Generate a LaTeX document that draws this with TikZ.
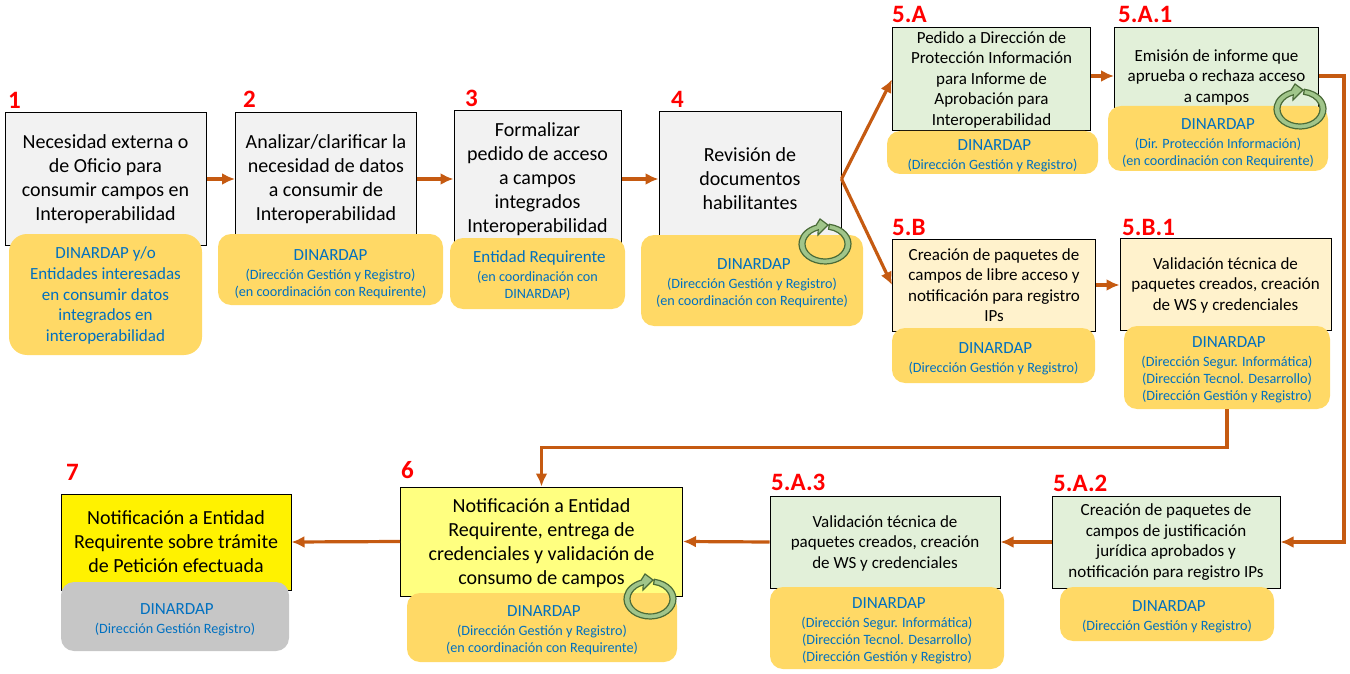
\documentclass[tikz,border=0pt]{standalone}
\usepackage{fontspec}
\setmainfont{Carlito}
\usetikzlibrary{arrows.meta}

\definecolor{flowcol}{HTML}{C55A11}
\definecolor{whocol}{HTML}{FFD966}
\definecolor{whotext}{HTML}{0070C0}
\definecolor{greybox}{HTML}{F2F2F2}
\definecolor{greenbox}{HTML}{E2F0D9}
\definecolor{creambox}{HTML}{FFF2CC}
\definecolor{paleyellow}{HTML}{FFFF80}
\definecolor{greywho}{HTML}{C6C6C6}
\definecolor{cyclefill}{HTML}{A0C58A}
\definecolor{cycledraw}{HTML}{4A6B38}

\newcommand*{\bigtext}{\fontsize{20}{24}\selectfont}
\newcommand*{\midtext}{\fontsize{17}{20.5}\selectfont}
\newcommand*{\whohead}[1][20pt]{\fontsize{17}{20}\selectfont\rule{0pt}{#1}}
\newcommand*{\whosub}{\fontsize{14.2}{17}\selectfont}

\begin{document}
\begin{tikzpicture}
[
	x=1pt,
	y=-1pt,
	stepnum/.style={anchor=west,inner sep=0pt,text=red,font=\fontsize{25}{25}\selectfont\bfseries},
	stepbox/.style={draw=black,line width=1pt,inner sep=1pt,align=center,text=black},
	whobox/.style={fill=whocol,rounded corners=13pt,inner sep=1pt,align=center,text=whotext,font=\whosub},
	flow/.style={-{Latex[length=13pt,width=12pt]},line width=3.2pt,draw=flowcol},
	cycle/.pic={
		\draw[yscale=-1,fill=cyclefill,draw=cycledraw,line width=1.2pt]
		  (80:26 and 20) arc[start angle=80,end angle=-250,x radius=26,y radius=20]
		  -- (-5,25) -- (3,19) -- (-7,9) -- (110:20 and 15)
		  arc[start angle=-250,end angle=80,x radius=20,y radius=15]
		  -- cycle;
	}
]

	\useasboundingbox (0,-1) rectangle (1350,673);

	% boxes of the upper row
	\node[stepbox,fill=greybox,minimum width=201pt,minimum height=132pt,font=\bigtext] (need) at (105.5,178) {Necesidad externa o\\de Oficio para\\consumir campos en\\Interoperabilidad};
	\node[stepbox,fill=greybox,minimum width=181pt,minimum height=132pt,font=\bigtext] (analyse) at (326,178) {Analizar/clarificar la\\necesidad de datos\\a consumir de\\Interoperabilidad};
	\node[stepbox,fill=greybox,minimum width=167pt,minimum height=136pt,font=\bigtext] (formal) at (537.5,178) {Formalizar\\pedido de acceso\\a campos\\integrados\\Interoperabilidad};
	\node[stepbox,fill=greybox,minimum width=182pt,minimum height=134pt,font=\bigtext] (review) at (750,178) {Revisión de\\documentos\\habilitantes};
	\node[stepbox,fill=greenbox,minimum width=198pt,minimum height=103pt,font=\midtext] (askA) at (991.5,78.5) {Pedido a Dirección de\\Protección Información\\para Informe de\\Aprobación para\\Interoperabilidad};
	\node[stepbox,fill=greenbox,minimum width=204pt,minimum height=96pt,font=\midtext] (reportA) at (1216.5,75) {\rule{0pt}{14pt}Emisión de informe que\\aprueba o rechaza acceso\\a campos};
	\node[stepbox,fill=creambox,minimum width=203pt,minimum height=92pt,font=\midtext] (packB) at (994,284) {Creación de paquetes de\\campos de libre acceso y\\notificación para registro\\IPs};
	\node[stepbox,fill=creambox,minimum width=211pt,minimum height=92pt,font=\midtext] (checkB) at (1225.5,283) {\rule{0pt}{14pt}Validación técnica de\\paquetes creados, creación\\de WS y credenciales};

	% boxes of the lower row
	\node[stepbox,fill=yellow,minimum width=230pt,minimum height=96pt,font=\bigtext] (notice) at (176,541) {Notificación a Entidad\\Requirente sobre trámite\\de Petición efectuada};
	\node[stepbox,fill=paleyellow,minimum width=282pt,minimum height=109pt,font=\bigtext] (deliver) at (541.5,540.5) {\rule{0pt}{18pt}Notificación a Entidad\\Requirente, entrega de\\credenciales y validación de\\consumo de campos};
	\node[stepbox,fill=greenbox,minimum width=230pt,minimum height=92pt,font=\midtext] (checkA) at (885,541) {\rule{0pt}{14pt}Validación técnica de\\paquetes creados, creación\\de WS y credenciales};
	\node[stepbox,fill=greenbox,minimum width=228pt,minimum height=92pt,font=\midtext] (packA) at (1166,541) {Creación de paquetes de\\campos de justificación\\jurídica aprobados y\\notificación para registro IPs};

	% who is in charge
	\node[whobox,rounded corners=18pt,minimum width=193pt,minimum height=121pt,font=\fontsize{17}{20.7}\selectfont] (whoNeed) at (105.5,293.5) {\rule{0pt}{14pt}DINARDAP y/o\\Entidades interesadas\\en consumir datos\\integrados en\\interoperabilidad};
	\node[whobox,minimum width=225pt,minimum height=71pt] (whoAnalyse) at (330.5,268.5) {\whohead DINARDAP\\[2pt]\whosub (Dirección Gestión y Registro)\\(en coordinación con Requirente)};
	\node[whobox,minimum width=175pt,minimum height=71pt] (whoFormal) at (537.5,272.5) {\whohead[16pt] Entidad Requirente\\[2pt]\whosub (en coordinación con\\DINARDAP)};
	\node[whobox,minimum width=222pt,minimum height=91pt] (whoReview) at (752,279.5) {\whohead[17pt] DINARDAP\\[2pt]\whosub (Dirección Gestión y Registro)\\(en coordinación con Requirente)};
	\node[whobox,minimum width=211pt,minimum height=43pt] (whoAskA) at (992.5,151.5) {\whohead[18pt] DINARDAP\\[2pt]\whosub (Dirección Gestión y Registro)};
	\node[whobox,minimum width=220pt,minimum height=65pt] (whoReportA) at (1218,137.5) {\whohead DINARDAP\\[2pt]\whosub (Dir. Protección Información)\\(en coordinación con Requirente)};
	\node[whobox,minimum width=203pt,minimum height=55pt] (whoPackB) at (993.5,354.5) {\whohead[18pt] DINARDAP\\[2pt]\whosub (Dirección Gestión y Registro)};
	\node[whobox,minimum width=206pt,minimum height=83pt] (whoCheckB) at (1227,366.5) {\whohead[16pt] DINARDAP\\[2pt]\whosub (Dirección Segur. Informática)\\(Dirección Tecnol. Desarrollo)\\(Dirección Gestión y Registro)};
	\node[whobox,fill=greywho,minimum width=228pt,minimum height=69pt] (whoNotice) at (175,615.5) {\whohead[18pt] DINARDAP\\[2pt]\whosub (Dirección Gestión Registro)};
	\node[whobox,minimum width=270pt,minimum height=69pt] (whoDeliver) at (542,626.5) {\whohead[16pt] DINARDAP\\[2pt]\whosub (Dirección Gestión y Registro)\\(en coordinación con Requirente)};
	\node[whobox,minimum width=234pt,minimum height=82pt] (whoCheckA) at (887,627) {\whohead[17pt] DINARDAP\\[2pt]\whosub (Dirección Segur. Informática)\\(Dirección Tecnol. Desarrollo)\\(Dirección Gestión y Registro)};
	\node[whobox,minimum width=214pt,minimum height=54pt] (whoPackA) at (1167,613) {\whohead[16pt] DINARDAP\\[2pt]\whosub (Dirección Gestión y Registro)};

	% step numbers
	\node[stepnum] (numNeed) at (8,99.5) {1};
	\node[stepnum] (numAnalyse) at (243,98.5) {2};
	\node[stepnum] (numFormal) at (465,97.5) {3};
	\node[stepnum] (numReview) at (671,98.5) {4};
	\node[stepnum] (numAskA) at (892,13) {5.A};
	\node[stepnum] (numReportA) at (1118,13) {5.A.1};
	\node[stepnum] (numPackB) at (892,226) {5.B};
	\node[stepnum] (numCheckB) at (1122,226) {5.B.1};
	\node[stepnum] (numNotice) at (66,471) {7};
	\node[stepnum] (numDeliver) at (401,469) {6};
	\node[stepnum] (numCheckA) at (771,481) {5.A.3};
	\node[stepnum] (numPackA) at (1053,482) {5.A.2};

	% arrows
	\draw[flow] (need.east) -- (analyse.west);
	\draw[flow] (analyse.east) -- (formal.west);
	\draw[flow] (formal.east) -- (review.west);
	\draw[flow] (review.east) -- (askA.west);
	\draw[flow] (review.east) -- (packB.west);
	\draw[flow] (reportA.west -| askA.east) -- (reportA.west);
	\draw[flow] (packB.east) -- (packB.east -| checkB.west);
	\draw[flow] (reportA.east) -- ++(25,0) |- (packA.east);
	\draw[flow] (whoCheckB.south) -- ++(0,38) -| (deliver.north);
	\draw[flow] (packA.west) -- (checkA.east);
	\draw[flow] (checkA.west) -- (deliver.east);
	\draw[flow] (deliver.west) -- (notice.east);

	% repeat marks
	\pic at (825,243) {cycle};
	\pic at (1300,108) {cycle};
	\pic at (650,598) {cycle};

\end{tikzpicture}
\end{document}
